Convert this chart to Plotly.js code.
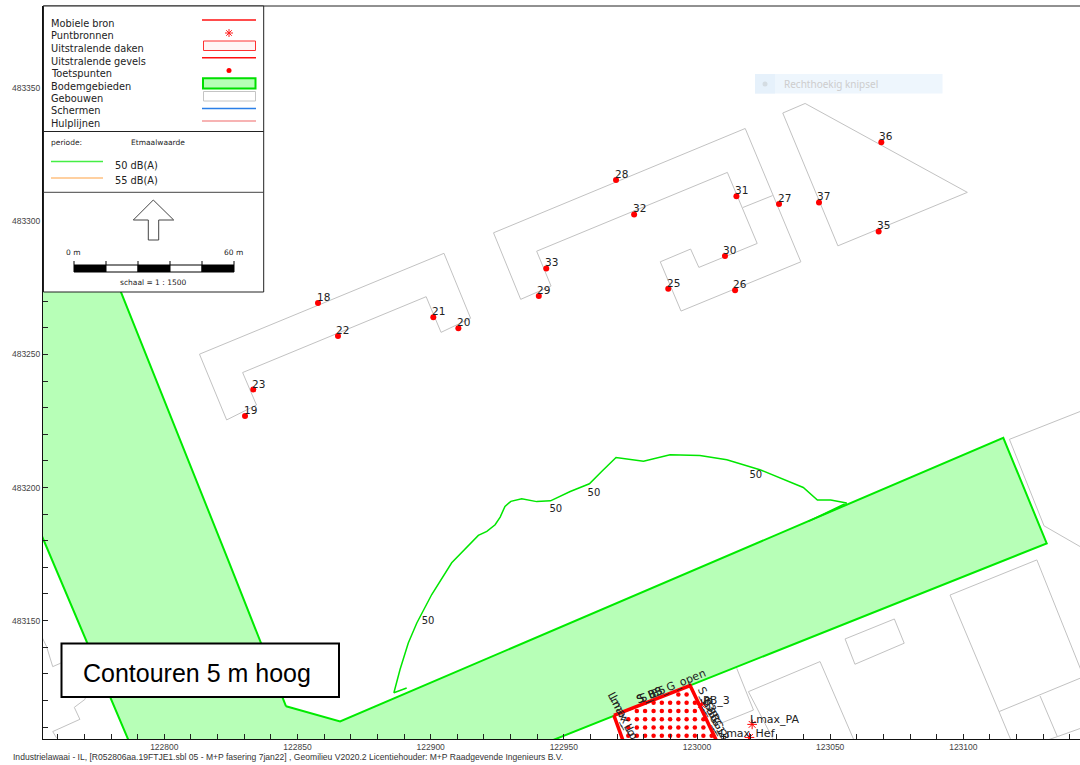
<!DOCTYPE html>
<html>
<head>
<meta charset="utf-8">
<script src="https://cdn.plot.ly/plotly-3.0.1.min.js"></script>
<style>html,body{margin:0;padding:0;background:#fff}#chart{width:1080px;height:765px}</style>
</head>
<body>
<div id="chart"></div>
<script>
// Ground areas (Bodemgebieden)
const groundX = [122845.7,122866.0,123115.0,123131.3,122908.8,122792.8,122706.9,122775.9,122823.9,122845.7];
const groundY = [483117.8,483112.1,483218.7,483179.0,483090.3,483090.3,483293.0,483293.0,483172.9,483117.8];

// Receiver buildings (Gebouwen)
const buildAX = [122813.2,122905.0,122915.0,122903.9,122898.3,122829.4,122834.6,122823.4,122813.2];
const buildAY = [483250.1,483288.0,483263.6,483258.3,483271.7,483243.2,483231.0,483225.4,483250.1];
const buildBX = [122923.6,123018.1,123039.0,122994.0,122986.2,122997.6,123000.7,123022.6,123011.4,122939.8,122945.2,122933.8,122923.6];
const buildBY = [483295.7,483334.9,483284.8,483266.3,483284.8,483289.6,483282.7,483291.7,483318.4,483288.8,483275.7,483270.7,483295.7];
const dividerX = [123017.2,123028.4];
const dividerY = [483305.2,483309.7];
const buildCX = [123032.2,123040.6,123101.5,123052.9,123032.2];
const buildCY = [483340.7,483344.3,483310.9,483290.8,483340.7];
const farRightX = [123151.3,123117.3,123130.3,123151.3];
const farRightY = [483231.5,483218.1,483185.6,483173.5];
const smallX = [123055.6,123074.1,123077.8,123059.3,123055.6];
const smallY = [483143.1,483150.6,483141.5,483133.6,483143.1];
const bigX = [123147.6,123127.6,123095.0,123113.4,123147.6];
const bigY = [483122.8,483172.8,483159.6,483115.8,483129.9];
const bigLowX = [123113.4,123119.4];
const bigLowY = [483115.8,483101.4];
const cornerX = [123128.8,123135.3,123147.6];
const cornerY = [483121.7,483106.4,483110.8];
const cornerLinkX = [123130.7,123135.3];
const cornerLinkY = [483104.8,483106.4];
const hallX = [123029.7,123019.3,123046.2,123059.7];
const hallY = [483103.3,483123.3,483134.6,483103.3];
const shedX = [123014.9,123021.2,123006.4];
const shedY = [483132.1,483116.4,483110.4];
const leftTopX = [122753.3,122755.8,122758.1,122761.1,122772.1];
const leftTopY = [483145.4,483140.2,483132.7,483134.0,483127.7];
const leftLowX = [122772.1,122770.2,122766.2,122768.3,122758.1,122759.6];
const leftLowY = [483127.7,483120.4,483117.4,483112.9,483108.3,483105.8];

// 50 dB(A) contour
const contourX = [122891.0,122886.2,122888.5,122891.6,122894.8,122897.3,122900.4,122907.9,122911.0,122914.8,122917.9,122921.1,122924.2,122926.1,122927.9,122930.1,122934.2,122939.8,122945.0,122952.4,122959.6,122964.2,122969.6,122979.9,122989.9,123001.1,123011.2,123023.6,123039.9,123045.2,123050.2,123056.2,123041.8,123054.9];
const contourY = [483124.7,483122.9,483131.6,483141.6,483149.1,483154.1,483159.8,483171.7,483174.8,483178.9,483182.0,483183.5,483186.0,483188.9,483192.9,483194.8,483195.8,483194.7,483195.0,483198.5,483201.4,483206.0,483211.3,483209.9,483212.3,483212.0,483210.4,483206.7,483200.0,483195.3,483195.3,483194.2,483187.3,483193.2];
const contourLabelX = [122899.0,122947.0,122961.3,123022.1];
const contourLabelY = [483149.6,483191.6,483197.6,483204.4];
const contourLabels = ['50','50','50','50'];

// Radiating roof (Uitstralende daken) and its point grid
const roofX = [122968.8,122997.4,123014.3,122977.5,122968.8];
const roofY = [483114.4,483125.6,483090.3,483090.3,483114.4];
const gridX = [122993.0,122996.1,
  122980.5,122983.7,122986.8,122989.9,122993.0,122996.1,122999.2,
  122977.4,122980.5,122983.7,122986.8,122989.9,122993.0,122996.1,122999.2,
  122974.2,122977.4,122980.5,122983.7,122986.8,122989.9,122993.0,122996.1,122999.2,123002.4,
  122974.2,122977.4,122980.5,122983.7,122986.8,122989.9,122993.0,122996.1,122999.2,123002.4,
  122974.2,122977.4,122980.5,122983.7,122986.8,122989.9,122993.0,122996.1,122999.2,123002.4,123005.5];
const gridY = [483122.2,483122.2,
  483119.1,483119.1,483119.1,483119.1,483119.1,483119.1,483119.1,
  483116.0,483116.0,483116.0,483116.0,483116.0,483116.0,483116.0,483116.0,
  483112.9,483112.9,483112.9,483112.9,483112.9,483112.9,483112.9,483112.9,483112.9,483112.9,
  483109.8,483109.8,483109.8,483109.8,483109.8,483109.8,483109.8,483109.8,483109.8,483109.8,
  483106.7,483106.7,483106.7,483106.7,483106.7,483106.7,483106.7,483106.7,483106.7,483106.7,483106.7];

// Point sources (Puntbronnen)
const sourceX = [123020.7,123001.7,123019.7];
const sourceY = [483111.0,483118.5,483106.1];

// Receivers (Toetspunten)
const receiverLabels = ['18','22','21','20','23','19','28','32','31','27','37','36','35','30','26','25','33','29'];
const receiverX = [122857.7,122865.2,122901.0,122910.4,122833.4,122830.3,122969.6,122976.4,123014.8,123030.8,123045.8,123069.2,123068.2,123010.5,123014.3,122989.2,122943.4,122940.6];
const receiverY = [483269.3,483256.9,483264.0,483259.8,483236.8,483226.9,483315.5,483302.6,483309.4,483306.5,483307.1,483329.7,483296.2,483287.0,483274.1,483274.7,483282.3,483272.0];

// Legend content
const legendItems = ['Mobiele bron','Puntbronnen','Uitstralende daken','Uitstralende gevels','Toetspunten','Bodemgebieden','Gebouwen','Schermen','Hulplijnen'];
const contourLevels = ['50 dB(A)','55 dB(A)'];
const footerText = 'Industrielawaai - IL, [R052806aa.19FTJE1.sbl 05 - M+P fasering 7jan22] , Geomilieu V2020.2 Licentiehouder: M+P Raadgevende Ingenieurs B.V.';

// Page pixel to paper fraction, for the decoration panels only
const L = 43, T = 6, W = 1037, H = 733;
const P = x => (x - L) / W;
const Q = y => (T + H - y) / H;

const GRAY = '#c2c2c2';
function outline(x, y) {
  return {x, y, type:'scatter', mode:'lines', line:{color:GRAY, width:1}, hoverinfo:'skip'};
}
const data = [
  {x:groundX, y:groundY, type:'scatter', mode:'lines', fill:'toself', fillcolor:'#b7ffb7', line:{color:'#00ea00', width:2}, hoverinfo:'skip'},
  outline(buildAX, buildAY), outline(buildBX, buildBY), outline(dividerX, dividerY), outline(buildCX, buildCY),
  outline(farRightX, farRightY), outline(smallX, smallY), outline(bigX, bigY), outline(bigLowX, bigLowY),
  outline(cornerX, cornerY), outline(cornerLinkX, cornerLinkY), outline(hallX, hallY), outline(shedX, shedY),
  outline(leftTopX, leftTopY), outline(leftLowX, leftLowY),
  {x:contourX, y:contourY, type:'scatter', mode:'lines', line:{color:'#00e600', width:1.5}, hoverinfo:'skip'},
  {x:contourLabelX, y:contourLabelY, text:contourLabels, type:'scatter', mode:'text', textposition:'middle center',
   textfont:{family:'DejaVu Sans', size:10, color:'#222'}, hoverinfo:'skip'},
  {x:gridX, y:gridY, type:'scatter', mode:'markers', marker:{color:'#ff0000', size:4.5}, hoverinfo:'skip'},
  {x:roofX, y:roofY, type:'scatter', mode:'lines', line:{color:'#ff0000', width:3.5}, hoverinfo:'skip'},
  {x:sourceX, y:sourceY, type:'scatter', mode:'markers', marker:{symbol:'asterisk-open', color:'#ff0000', size:8, line:{color:'#ff0000', width:1}}, hoverinfo:'skip'},
  {x:receiverX, y:receiverY, type:'scatter', mode:'markers', marker:{color:'#ff0000', size:6}, hoverinfo:'skip'}
];

function rect(x0,y0,x1,y1,fill,color,width){
  return {type:'rect',xref:'paper',yref:'paper',x0:P(x0),x1:P(x1),y0:Q(y1),y1:Q(y0),fillcolor:fill,line:{color:color,width:width},layer:'above'};
}
function seg(x0,y0,x1,y1,color,width){
  return {type:'line',xref:'paper',yref:'paper',x0:P(x0),x1:P(x1),y0:Q(y0),y1:Q(y1),line:{color:color,width:width},layer:'above'};
}
const arrow = [[153.3,200],[173.7,220],[158.7,220],[158.7,240],[148.3,240],[148.3,220],[133.3,220]];
const arrowPath = 'M' + arrow.map(p => P(p[0]) + ',' + Q(p[1])).join(' L') + ' Z';

const shapes = [
  seg(43,6,1080,6,'#222',1),
  rect(755,74,942.5,93.5,'#eef6fd','rgba(0,0,0,0)',0),
  rect(755,74,775,93.5,'#e6f1fb','rgba(0,0,0,0)',0),
  {type:'circle',xref:'paper',yref:'paper',x0:P(762.5),x1:P(767.5),y0:Q(86.5),y1:Q(81.5),fillcolor:'#d4dce2',line:{width:0},layer:'above'},
  rect(43.5,6,263.7,292,'#ffffff','#222',1),
  seg(43.5,131.5,263.7,131.5,'#222',1),
  seg(43.5,192.3,263.7,192.3,'#444',1),
  seg(202,20,256,20,'#ff1010',1.5),
  seg(225,33,233,33,'#ff2020',1), seg(229,29,229,37,'#ff2020',1),
  seg(226.2,30.2,231.8,35.8,'#ff2020',1), seg(226.2,35.8,231.8,30.2,'#ff2020',1),
  rect(203.5,41,255.5,50.5,'#fff5f5','#ff3030',1),
  seg(202,57.7,256,57.7,'#ff1010',1.5),
  {type:'circle',xref:'paper',yref:'paper',x0:P(226.5),x1:P(231.5),y0:Q(73),y1:Q(68),fillcolor:'#ff0000',line:{width:0},layer:'above'},
  rect(203,78.3,255.5,88.5,'#b7ffb7','#00e000',2),
  rect(203.5,91.5,255.5,101,'#ffffff','#c4c4c4',1),
  seg(202,108.5,256,108.5,'#2a7fe8',1.5),
  seg(202,121,256,121,'#f49a9a',1.5),
  seg(51,161.5,103,161.5,'#44ee44',1.5),
  seg(51,178,103,178,'#ffc080',1.3),
  {type:'path',xref:'paper',yref:'paper',path:arrowPath,fillcolor:'#ffffff',line:{color:'#444',width:1},layer:'above'},
  rect(74,265,106,272,'#000','#000',1),
  rect(106,265,138,272,'#fff','#000',1),
  rect(138,265,170,272,'#000','#000',1),
  rect(170,265,202,272,'#fff','#000',1),
  rect(202,265,234,272,'#000','#000',1),
  seg(74,261,74,265,'#000',1), seg(106,261,106,265,'#000',1), seg(138,261,138,265,'#000',1),
  seg(170,261,170,265,'#000',1), seg(202,261,202,265,'#000',1), seg(234,261,234,265,'#000',1),
  rect(61.5,643.5,339,697,'#ffffff','#000',2)
];

function note(text,x,y,opt){
  const o = opt || {};
  const left = !o.xanchor;
  return Object.assign({text,xref:'paper',yref:'paper',x:P(left ? x-2 : x),y:Q(y),showarrow:false,xanchor:'left',yanchor:'middle',
    font:{family:'DejaVu Sans',size:9.8,color:'#222'}},o);
}
const sm = {family:'DejaVu Sans',size:7.5,color:'#222'};
const labelFont = {family:'DejaVu Sans',size:11,color:'#222'};
const legendRowY = [23.5,36,48.5,61,73.5,86,98.5,111,123.5];
const receiverNotes = receiverLabels.map((t,i) => ({text:t,xref:'x',yref:'y',x:receiverX[i],y:receiverY[i],showarrow:false,
  xanchor:'center',yanchor:'middle',xshift:5,yshift:6,font:{family:'DejaVu Sans',size:10.5,color:'#222'}}));
const annotations = legendItems.map((t,i) => note(t,51,legendRowY[i]))
 .concat(receiverNotes)
 .concat([
  note('periode:',51,142,{font:sm}),
  note('Etmaalwaarde',131,142,{font:sm}),
  note(contourLevels[0],115,165.5),
  note(contourLevels[1],115,181),
  note('0 m',73,253,{xanchor:'center',font:sm}),
  note('60 m',233,253,{xanchor:'center',font:sm}),
  note('schaal = 1 : 1500',153,282,{xanchor:'center',font:sm}),
  note('Contouren 5 m hoog',196.5,673,{xanchor:'center',font:{family:'Liberation Sans',size:25,color:'#000'}}),
  note('Rechthoekig knipsel',784,84,{font:{family:'Noto Sans',size:10,color:'#cdcdcd'}}),
  note(footerText,13,757,{font:{family:'Liberation Sans',size:8.55,color:'#333'}}),
  note('S_BS_G_open',671,686,{xanchor:'center',textangle:-22,font:labelFont}),
  note('S_B3',649,695,{xanchor:'center',textangle:-22,font:labelFont}),
  note('S_B5',652,694,{xanchor:'center',textangle:-22,font:labelFont}),
  note('Lmax_Lo',622,714,{xanchor:'center',textangle:63,font:labelFont}),
  note('Lmax_Lo',624,717,{xanchor:'center',textangle:63,font:labelFont}),
  note('S_B3',707,699,{xanchor:'center',textangle:63,font:labelFont}),
  note('S_BG_1',713,715,{xanchor:'center',textangle:63,font:labelFont}),
  note('S_BG_2',715,718,{xanchor:'center',textangle:63,font:labelFont}),
  note('S_BG_3',717,721,{xanchor:'center',textangle:63,font:labelFont}),
  note('PB_3',716,700,{xanchor:'center',font:labelFont}),
  note('Lmax_PA',775,719,{xanchor:'center',font:labelFont}),
  note('Lmax_Hef',748,733,{xanchor:'center',font:labelFont})
 ]);

const tickFont = {family:'Liberation Sans',size:8.5,color:'#444'};
const layout = {
  width:1080, height:765,
  margin:{l:L,r:0,t:T,b:26,pad:0},
  paper_bgcolor:'#fff', plot_bgcolor:'#fff',
  showlegend:false, hovermode:false,
  xaxis:{range:[122754.45,123143.8],autorange:false,tick0:122800,dtick:50,ticks:'inside',ticklen:5,tickcolor:'#222',tickwidth:1,
    minor:{dtick:10,tick0:122800,ticks:'inside',ticklen:5,tickcolor:'#222',tickwidth:1,showgrid:false},
    showgrid:false,zeroline:false,showline:true,linecolor:'#111',linewidth:1,tickformat:'d',tickfont:tickFont},
  yaxis:{range:[483105.51,483380.92],autorange:false,tick0:483150,dtick:50,ticks:'inside',ticklen:5,tickcolor:'#222',tickwidth:1,
    minor:{dtick:10,tick0:483150,ticks:'inside',ticklen:5,tickcolor:'#222',tickwidth:1,showgrid:false},
    showgrid:false,zeroline:false,showline:true,linecolor:'#111',linewidth:1,tickformat:'d',tickfont:tickFont},
  shapes, annotations
};
Plotly.newPlot('chart',data,layout,{displayModeBar:false,staticPlot:true});
</script>
</body>
</html>
